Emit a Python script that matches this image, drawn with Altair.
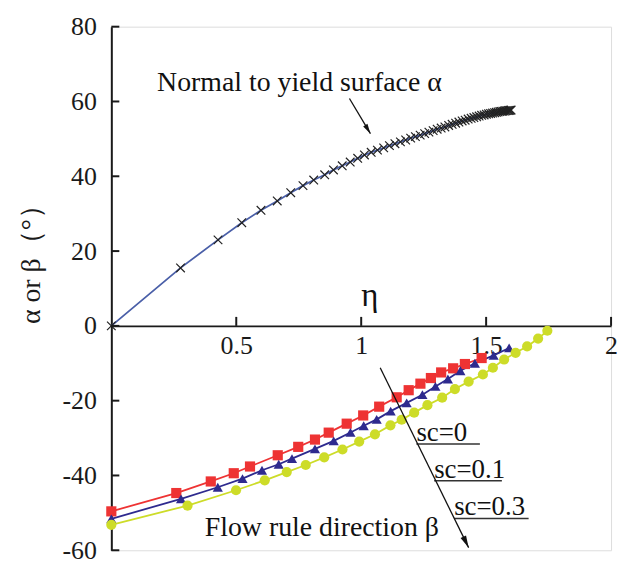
import altair as alt
import pandas as pd

# ---------------- data ----------------
eta_alpha = [0, 0.277, 0.427, 0.522, 0.599, 0.664, 0.718, 0.767, 0.810, 0.854, 0.889,
             0.924, 0.956, 0.986, 1.013, 1.040, 1.065, 1.090, 1.113, 1.135, 1.157, 1.178,
             1.198, 1.217, 1.236, 1.254, 1.271, 1.288, 1.304, 1.320, 1.335, 1.350, 1.364,
             1.378, 1.391, 1.404, 1.416, 1.428, 1.440, 1.451, 1.462, 1.472, 1.482, 1.492,
             1.501, 1.510, 1.518, 1.526, 1.534, 1.541, 1.548, 1.555, 1.561, 1.567, 1.573,
             1.578, 1.583, 1.588, 1.592, 1.596, 1.600]
alpha_vals = [0, 15.5, 23.0, 27.6, 30.9, 33.4, 35.6, 37.5, 39.0, 40.4, 41.7,
              42.8, 43.8, 44.8, 45.7, 46.4, 47.0, 47.6, 48.2, 48.7, 49.2, 49.7,
              50.2, 50.6, 51.0, 51.4, 51.8, 52.2, 52.6, 52.9, 53.2, 53.6, 53.9,
              54.2, 54.5, 54.8, 55.0, 55.3, 55.5, 55.7, 55.9, 56.1, 56.3, 56.4,
              56.6, 56.7, 56.8, 56.9, 57.0, 57.1, 57.2, 57.3, 57.35, 57.4, 57.45,
              57.5, 57.55, 57.6, 57.6, 57.65, 57.7]

eta_sc0 = [0, 0.26, 0.398, 0.49, 0.555, 0.666, 0.748, 0.815, 0.87, 0.942, 1.008, 1.072,
           1.142, 1.19, 1.237, 1.279, 1.32, 1.368, 1.415, 1.482]
beta_sc0 = [-49.6, -44.7, -41.6, -39.4, -37.6, -34.6, -32.35, -30.4, -28.55, -26.15, -23.95,
            -21.6, -19.1, -17.2, -15.45, -13.95, -12.45, -11.35, -10.2, -8.6]

eta_sc01 = [0, 0.279, 0.426, 0.525, 0.603, 0.67, 0.723, 0.815, 0.89, 0.957, 1.01, 1.062,
            1.118, 1.182, 1.245, 1.297, 1.347, 1.397, 1.455, 1.53, 1.592]
beta_sc01 = [-51.6, -46.25, -43.15, -40.85, -38.6, -37.0, -35.5, -32.9, -30.75, -28.5, -26.7,
             -25.0, -22.8, -20.6, -18.4, -16.2, -14.2, -12.0, -10.0, -7.9, -5.9]

eta_sc03 = [0, 0.305, 0.499, 0.614, 0.702, 0.778, 0.852, 0.925, 0.992, 1.055, 1.117, 1.162,
            1.212, 1.265, 1.324, 1.375, 1.43, 1.487, 1.527, 1.572, 1.618, 1.664, 1.708, 1.745]
beta_sc03 = [-53.2, -48.05, -43.95, -41.3, -39.1, -37.2, -35.15, -33.05, -30.95, -29.0, -26.6,
             -25.1, -23.2, -21.2, -19.2, -16.9, -14.9, -13.0, -11.2, -9.0, -7.2, -5.5, -3.4, -1.3]

series_names = ["sc=0", "sc=0.1", "sc=0.3"]
series_colors = ["#ee3333", "#2e2a8e", "#cddc28"]
series_shapes = ["square", "triangle-up", "circle"]

x_ticks = [0.5, 1, 1.5, 2]
y_ticks = [-60, -40, -20, 0, 20, 40, 60, 80]

# annotation texts (data units)
ann_text = ["Normal to yield surface α", "Flow rule direction β"]
ann_x = [0.183, 0.374]
ann_y = [62.7, -56.3]
sc_text = ["sc=0", "sc=0.1", "sc=0.3"]
sc_x = [1.221, 1.292, 1.372]
sc_y = [-30.8, -40.6, -50.5]
ul_x = [1.221, 1.292, 1.372]
ul_x2 = [1.475, 1.563, 1.670]
ul_y = [-31.6, -41.4, -51.5]
arrow_x = [0.953, 1.076]
arrow_y = [60.8, -11.2]
arrow_x2 = [1.037, 1.430]
arrow_y2 = [51.4, -59.3]
arrow_angle = [149, 154]
arrow_size = [100, 150]

# ---------------- chart ----------------
W, H = 503, 527
Y_MIN, Y_MAX = -60, 80
FONT = "Liberation Serif"
INK = "#1a1a1a"
HYPHEN_LABEL = "(datum.value < 0 ? '-' : '') + format(abs(datum.value), '~g')"

x_scale = alt.Scale(domain=[0, 2], nice=False, zero=False)
y_scale = alt.Scale(domain=[Y_MIN, Y_MAX], nice=False, zero=False)

x_axis = alt.Axis(values=x_ticks, format="~g", orient="bottom",
                  offset=-H * (0 - Y_MIN) / (Y_MAX - Y_MIN),
                  grid=False, ticks=False, tickSize=0, domain=True,
                  domainColor=INK, domainWidth=2,
                  labelFont=FONT, labelFontSize=26, labelColor=INK,
                  labelPadding=7, labelFlush=False, labelOverlap=False,
                  labelBound=False, title="")
y_axis = alt.Axis(values=y_ticks, orient="left", grid=False, ticks=False, tickSize=0,
                  domain=True, domainColor=INK, domainWidth=2,
                  labelFont=FONT, labelFontSize=26, labelColor=INK, labelPadding=15,
                  labelExpr=HYPHEN_LABEL,
                  labelFlush=False, labelOverlap=False, labelBound=False,
                  title="α or β（°）", titleFont=FONT, titleFontSize=28,
                  titleFontWeight="normal", titleColor=INK,
                  titleX=-80, titleY=232, titleAngle=270,
                  titleAlign="center", titleBaseline="middle")

X = alt.X("x:Q", scale=x_scale, axis=x_axis)
Y = alt.Y("y:Q", scale=y_scale, axis=y_axis)

alpha_df = pd.DataFrame({"x": eta_alpha, "y": alpha_vals})

rows = []
for name, xs, ys in zip(series_names, [eta_sc0, eta_sc01, eta_sc03],
                        [beta_sc0, beta_sc01, beta_sc03]):
    for i, (a, b) in enumerate(zip(xs, ys)):
        rows.append({"x": a, "y": b, "s": name, "i": i})
beta_df = pd.DataFrame(rows)

color_enc = alt.Color("s:N", scale=alt.Scale(domain=series_names, range=series_colors),
                      legend=None)
shape_enc = alt.Shape("s:N", scale=alt.Scale(domain=series_names, range=series_shapes),
                      legend=None)

alpha_line = alt.Chart(alpha_df).mark_line(color="#4a5fa8", strokeWidth=1.8).encode(
    x=X, y=Y, order="x:Q")
alpha_pts = alt.Chart(alpha_df).mark_point(
    shape="M-1,-1L1,1M-1,1L1,-1", filled=False, color="#222222",
    strokeWidth=1.2, size=75, opacity=1).encode(x=X, y=Y)

beta_lines = alt.Chart(beta_df).mark_line(strokeWidth=1.8).encode(
    x=X, y=Y, color=color_enc, detail="s:N", order="i:Q")
beta_pts = alt.Chart(beta_df).mark_point(filled=True, opacity=1, size=105).encode(
    x=X, y=Y, color=color_enc, shape=shape_enc)

xt_df = pd.DataFrame({"x": x_ticks, "y": [0] * len(x_ticks),
                      "y2": [2.4] * len(x_ticks)})
x_tick_rules = alt.Chart(xt_df).mark_rule(color=INK, strokeWidth=2).encode(
    x=X, y=Y, y2="y2:Q")
yt_df = pd.DataFrame({"x": [0] * len(y_ticks), "x2": [0.032] * len(y_ticks), "y": y_ticks})
y_tick_rules = alt.Chart(yt_df).mark_rule(color=INK, strokeWidth=2).encode(
    x=X, x2="x2:Q", y=Y)

ann_df = pd.DataFrame({"x": ann_x, "y": ann_y, "t": ann_text})
ann = alt.Chart(ann_df).mark_text(font=FONT, fontSize=28, align="left",
                                  baseline="alphabetic", color="#111111").encode(
    x=X, y=Y, text="t:N")

eta_df = pd.DataFrame({"x": [1.034], "y": [5.3], "t": ["η"]})
eta_lbl = alt.Chart(eta_df).mark_text(font=FONT, fontSize=33, align="center",
                                      baseline="alphabetic", color="#111111").encode(
    x=X, y=Y, text="t:N")

sc_df = pd.DataFrame({"x": sc_x, "y": sc_y, "t": sc_text})
sc_lbl = alt.Chart(sc_df).mark_text(font=FONT, fontSize=27, align="left",
                                    baseline="alphabetic", color="#111111").encode(
    x=X, y=Y, text="t:N")

ul_df = pd.DataFrame({"x": ul_x, "x2": ul_x2, "y": ul_y})
ul = alt.Chart(ul_df).mark_rule(color="#333333", strokeWidth=1.5).encode(
    x=X, x2="x2:Q", y=Y)

ar_df = pd.DataFrame({"x": arrow_x, "y": arrow_y, "x2": arrow_x2, "y2": arrow_y2,
                      "a": arrow_angle, "sz": arrow_size})
ar_line = alt.Chart(ar_df).mark_rule(color="#111111", strokeWidth=1.3).encode(
    x=X, y=Y, x2="x2:Q", y2="y2:Q")
ar_head = alt.Chart(ar_df).mark_point(
    shape="M0,0L0.5,2L-0.5,2Z", filled=True, color="#111111", opacity=1).encode(
    x=alt.X("x2:Q", scale=x_scale, axis=x_axis),
    y=alt.Y("y2:Q", scale=y_scale, axis=y_axis),
    angle=alt.Angle("a:Q", scale=None),
    size=alt.Size("sz:Q", scale=None, legend=None))

chart = alt.layer(
    alpha_line, alpha_pts, beta_lines, beta_pts, x_tick_rules, y_tick_rules,
    ann, eta_lbl, sc_lbl, ul, ar_line, ar_head
).properties(
    width=W, height=H,
    autosize=alt.AutoSizeParams(type="none"),
    padding={"left": 104, "top": 17, "right": 10, "bottom": 9},
).configure_view(stroke=None).configure(background="white")

chart.save("out.html", embed_options={"renderer": "svg", "actions": False})
